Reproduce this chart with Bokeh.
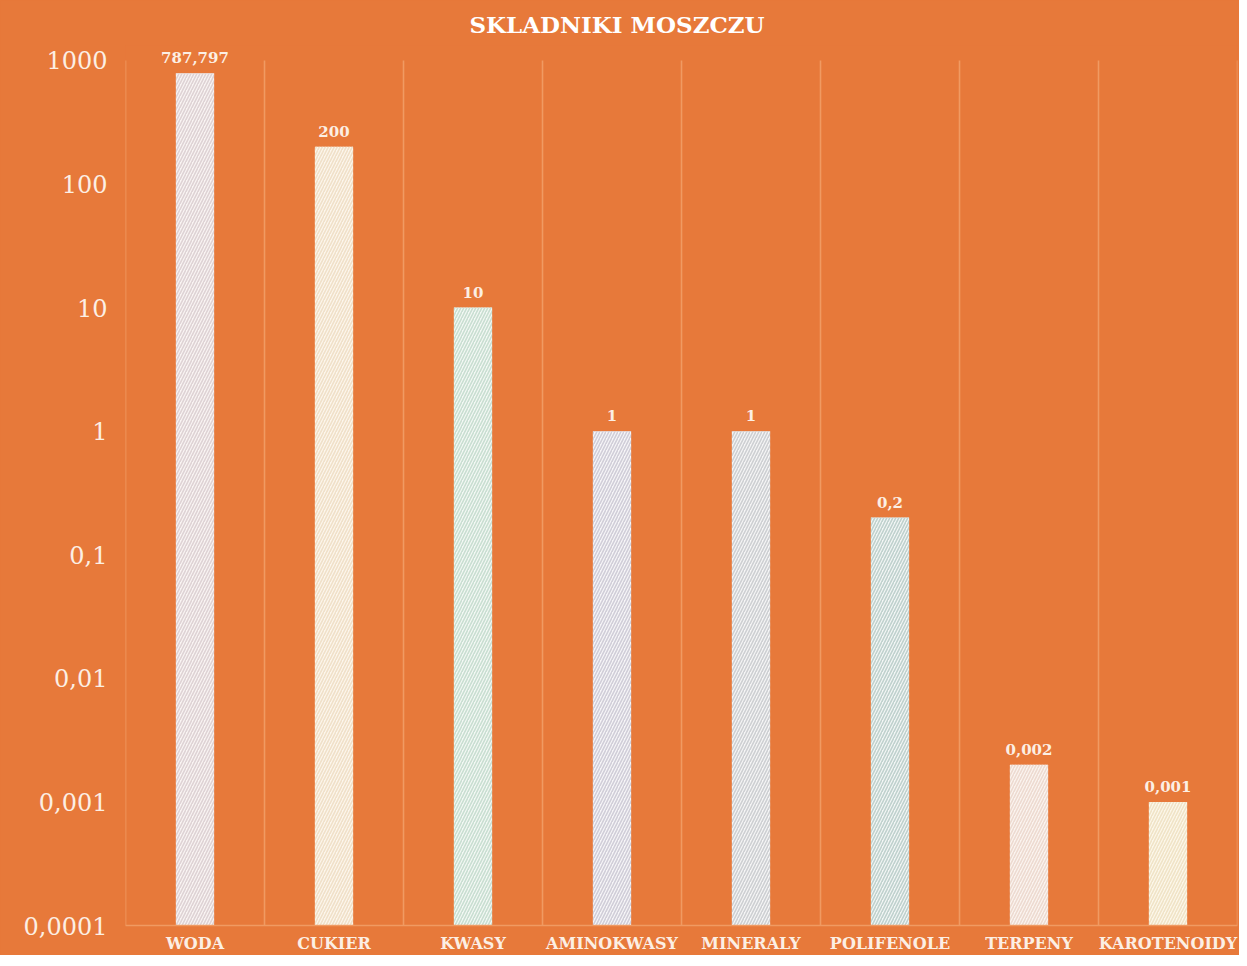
from bokeh.plotting import figure
from bokeh.models import ColumnDataSource, FixedTicker, CustomJSTickFormatter, Title
from bokeh.core.properties import value
from bokeh.embed import file_html
from bokeh.resources import INLINE

categories = ["WODA", "CUKIER", "KWASY", "AMINOKWASY", "MINERALY", "POLIFENOLE", "TERPENY", "KAROTENOIDY"]
values = [787.797, 200, 10, 1, 1, 0.2, 0.002, 0.001]
value_labels = ["787,797", "200", "10", "1", "1", "0,2", "0,002", "0,001"]
y_ticks = [0.0001, 0.001, 0.01, 0.1, 1, 10, 100, 1000]
fill_colors = ["#F9F4F3", "#FCF6EC", "#F3F8F4", "#F6F5F7", "#F5F5F5", "#F2F6F5", "#FBF4EF", "#FCF7EA"]
hatch_colors = ["#DED2D4", "#F0E0C8", "#C8DED1", "#D0CDD8", "#CDCFD2", "#BFD1CD", "#EDDAD0", "#F0E3C6"]

BG = "#E7793A"
LINE = "#F09A62"
TXT = "#FCEFE4"

y_min, y_max = y_ticks[0], y_ticks[-1]

source = ColumnDataSource(dict(cat=categories, val=values, lab=value_labels,
                               fill=fill_colors, hatch=hatch_colors))

boundaries = list(range(len(categories) + 1))
grid_src = ColumnDataSource(dict(x=boundaries, y0=[y_min] * len(boundaries), y1=[y_max] * len(boundaries)))

p = figure(x_range=categories, y_axis_type="log", y_range=(y_min, 1320),
           width=1239, height=955, output_backend="svg", toolbar_location=None,
           min_border_left=125, min_border_right=2, min_border_top=45, min_border_bottom=0,
           background_fill_color=BG, border_fill_color=BG, outline_line_color=None)
p.styles = {"background-color": BG}

t = Title(text="SKLADNIKI MOSZCZU", align="left", text_color="#FFFFFF",
          text_font="DejaVu Serif", text_font_style="bold", text_font_size="23px",
          offset=344, standoff=16)
p.add_layout(t, "above")

p.segment(x0="x", y0="y0", x1="x", y1="y1", source=grid_src, line_color=LINE, line_width=1.6)

p.vbar(x="cat", top="val", bottom=y_min, width=0.275, source=source,
       fill_color="fill", line_color=None,
       hatch_pattern="/", hatch_color="hatch", hatch_scale=6, hatch_weight=1.6)

p.text(x="cat", y="val", text="lab", source=source, y_offset=-10,
       text_align="center", text_baseline="bottom", text_color=TXT,
       text_font=value("DejaVu Serif"), text_font_style="bold", text_font_size="15px")

p.xgrid.grid_line_color = None
p.ygrid.grid_line_color = None

p.xaxis.axis_line_color = LINE
p.xaxis.axis_line_width = 1.6
p.xaxis.major_tick_line_color = None
p.xaxis.minor_tick_line_color = None
p.xaxis.major_tick_out = 0
p.xaxis.major_tick_in = 0
p.xaxis.major_label_text_color = TXT
p.xaxis.major_label_text_font = "DejaVu Serif"
p.xaxis.major_label_text_font_style = "bold"
p.xaxis.major_label_text_font_size = "16px"
p.xaxis.major_label_standoff = 8

p.yaxis.ticker = FixedTicker(ticks=y_ticks, minor_ticks=[])
p.yaxis.formatter = CustomJSTickFormatter(code="return tick.toString().replace('.', ',');")
p.yaxis.axis_line_color = None
p.yaxis.major_tick_line_color = None
p.yaxis.minor_tick_line_color = None
p.yaxis.major_tick_out = 0
p.yaxis.major_tick_in = 0
p.yaxis.major_label_text_color = TXT
p.yaxis.major_label_text_font = "DejaVu Serif"
p.yaxis.major_label_text_font_size = "24px"
p.yaxis.major_label_standoff = 18

open("out.html", "w").write(file_html(p, INLINE))
